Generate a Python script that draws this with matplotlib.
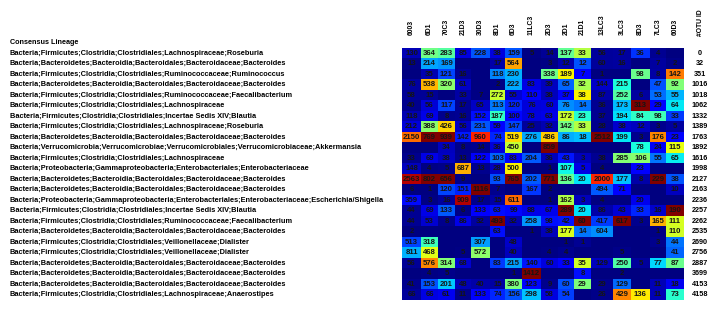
import numpy as np
import matplotlib.pyplot as plt
from matplotlib.transforms import blended_transform_factory

plt.rcParams['font.family'] = ['Liberation Sans', 'DejaVu Sans']

samples = ['6003', '6D1', '70C3', '21D3', '30D3', '8D1', '6D3', '11LC3',
           '2D3', '2D1', '21D1', '13LC3', '3LC3', '8D3', '7LC3', '60D3']

otu_ids = [0, 32, 351, 1016, 1018, 1062, 1332, 1389, 1763, 1892, 1616, 1998,
           2127, 2163, 2236, 2257, 2262, 2535, 2690, 2756, 2887, 3699, 4153, 4158]

lineages = [
    'Bacteria;Firmicutes;Clostridia;Clostridiales;Lachnospiraceae;Roseburia',
    'Bacteria;Bacteroidetes;Bacteroidia;Bacteroidales;Bacteroidaceae;Bacteroides',
    'Bacteria;Firmicutes;Clostridia;Clostridiales;Ruminococcaceae;Ruminococcus',
    'Bacteria;Bacteroidetes;Bacteroidia;Bacteroidales;Bacteroidaceae;Bacteroides',
    'Bacteria;Firmicutes;Clostridia;Clostridiales;Ruminococcaceae;Faecalibacterium',
    'Bacteria;Firmicutes;Clostridia;Clostridiales;Lachnospiraceae',
    'Bacteria;Firmicutes;Clostridia;Clostridiales;Incertae Sedis XIV;Blautia',
    'Bacteria;Firmicutes;Clostridia;Clostridiales;Lachnospiraceae;Roseburia',
    'Bacteria;Bacteroidetes;Bacteroidia;Bacteroidales;Bacteroidaceae;Bacteroides',
    'Bacteria;Verrucomicrobia;Verrucomicrobiae;Verrucomicrobiales;Verrucomicrobiaceae;Akkermansia',
    'Bacteria;Firmicutes;Clostridia;Clostridiales;Lachnospiraceae',
    'Bacteria;Proteobacteria;Gammaproteobacteria;Enterobacteriales;Enterobacteriaceae',
    'Bacteria;Bacteroidetes;Bacteroidia;Bacteroidales;Bacteroidaceae;Bacteroides',
    'Bacteria;Bacteroidetes;Bacteroidia;Bacteroidales;Bacteroidaceae;Bacteroides',
    'Bacteria;Proteobacteria;Gammaproteobacteria;Enterobacteriales;Enterobacteriaceae;Escherichia/Shigella',
    'Bacteria;Firmicutes;Clostridia;Clostridiales;Incertae Sedis XIV;Blautia',
    'Bacteria;Firmicutes;Clostridia;Clostridiales;Ruminococcaceae;Faecalibacterium',
    'Bacteria;Bacteroidetes;Bacteroidia;Bacteroidales;Bacteroidaceae;Bacteroides',
    'Bacteria;Firmicutes;Clostridia;Clostridiales;Veillonellaceae;Dialister',
    'Bacteria;Firmicutes;Clostridia;Clostridiales;Veillonellaceae;Dialister',
    'Bacteria;Bacteroidetes;Bacteroidia;Bacteroidales;Bacteroidaceae;Bacteroides',
    'Bacteria;Bacteroidetes;Bacteroidia;Bacteroidales;Bacteroidaceae;Bacteroides',
    'Bacteria;Bacteroidetes;Bacteroidia;Bacteroidales;Bacteroidaceae;Bacteroides',
    'Bacteria;Firmicutes;Clostridia;Clostridiales;Lachnospiraceae;Anaerostipes',
]

# counts per OTU (rows) and sample (columns), 0 = empty cell
counts = np.array([
    [130, 364, 283, 85, 228, 38, 159, 5, 14, 137, 33, 56, 17, 36, 4, 0],
    [13, 214, 169, 0, 0, 17, 564, 0, 3, 12, 12, 60, 16, 0, 7, 2],
    [0, 35, 121, 16, 0, 118, 230, 0, 338, 189, 7, 1, 0, 98, 8, 142],
    [76, 538, 320, 61, 0, 2, 222, 83, 39, 65, 32, 144, 215, 0, 47, 92],
    [58, 15, 0, 33, 7, 272, 55, 110, 38, 37, 38, 87, 252, 6, 53, 55],
    [40, 56, 117, 17, 65, 113, 120, 76, 60, 76, 14, 36, 173, 313, 29, 64],
    [118, 69, 8, 16, 152, 187, 100, 78, 63, 172, 23, 37, 194, 84, 98, 33],
    [212, 388, 426, 56, 231, 59, 147, 25, 32, 142, 33, 28, 38, 12, 3, 5],
    [2150, 769, 939, 142, 960, 74, 519, 276, 486, 86, 18, 2512, 199, 3, 176, 23],
    [0, 0, 34, 8, 14, 36, 450, 0, 859, 0, 0, 0, 0, 78, 24, 115],
    [33, 69, 38, 13, 122, 103, 83, 204, 36, 43, 3, 38, 285, 106, 55, 65],
    [148, 4, 5, 687, 13, 28, 500, 0, 1, 107, 5, 4, 0, 23, 0, 0],
    [2563, 802, 656, 9, 0, 93, 765, 202, 771, 136, 20, 2000, 177, 8, 229, 38],
    [6, 1, 120, 151, 1116, 7, 0, 167, 2, 0, 0, 494, 71, 0, 0, 10],
    [359, 3, 16, 909, 17, 15, 611, 0, 1, 162, 3, 4, 0, 20, 0, 0],
    [44, 69, 133, 6, 133, 63, 99, 88, 67, 289, 20, 86, 43, 33, 16, 190],
    [44, 53, 8, 86, 32, 493, 32, 258, 98, 42, 60, 417, 617, 3, 165, 111],
    [2, 0, 0, 0, 0, 63, 0, 1, 38, 177, 14, 604, 0, 0, 1, 110],
    [513, 318, 0, 0, 307, 0, 48, 0, 0, 1, 1, 0, 0, 0, 3, 44],
    [811, 468, 0, 5, 572, 0, 40, 0, 4, 4, 0, 0, 5, 0, 0, 41],
    [56, 576, 314, 68, 0, 83, 215, 140, 60, 33, 35, 129, 250, 5, 77, 87],
    [0, 4, 5, 0, 0, 0, 1, 1412, 0, 0, 8, 0, 2, 0, 0, 0],
    [41, 153, 201, 48, 40, 15, 380, 123, 9, 60, 29, 29, 129, 0, 11, 18],
    [66, 66, 61, 11, 133, 74, 156, 298, 58, 54, 0, 26, 429, 136, 11, 73],
])

# top of the colour scale of each sample column (larger counts saturate)
col_top = [2700, 750, 620, 950, 1100, 460, 765, 950, 700, 290, 58, 2300, 560, 205, 229, 182]

# column widths in pixels (the sheet has uneven columns)
col_w = [19, 17, 17, 16, 19, 15, 17, 19, 17, 16, 17, 22, 18, 19, 16, 18]

W, H = 715, 309
fig = plt.figure(figsize=(W / 100, H / 100), dpi=100)
ax = fig.add_axes([402 / W, 1 - 299.5 / H, 282 / W, 252 / H])

x_edges = np.concatenate([[0], np.cumsum(col_w)])
y_edges = np.arange(len(otu_ids) + 1)
scaled = np.clip(counts / np.array(col_top, dtype=float), 0, 1)
ax.pcolormesh(x_edges, y_edges, scaled, cmap='jet', vmin=0, vmax=1)
ax.set_xlim(0, x_edges[-1])
ax.set_ylim(len(otu_ids), 0)
ax.axis('off')

x_mid = (x_edges[:-1] + x_edges[1:]) / 2
for i in range(len(otu_ids)):
    for j in range(len(samples)):
        v = counts[i, j]
        if v > 0:
            ax.text(x_mid[j], i + 0.55, str(v), ha='center', va='center',
                    fontsize=5.6, fontweight='bold', color='#151515')

rows_tr = blended_transform_factory(fig.transFigure, ax.transData)
ax.text(10 / W, -0.45, 'Consensus Lineage', transform=rows_tr, ha='left',
        va='center', fontsize=5.2, fontweight='bold')
for i, lin in enumerate(lineages):
    ax.text(10 / W, i + 0.55, lin, transform=rows_tr, ha='left', va='center',
            fontsize=5.3, fontweight='bold')
    ax.text(700 / W, i + 0.55, str(otu_ids[i]), transform=rows_tr, ha='center',
            va='center', fontsize=5.2, fontweight='bold')

cols_tr = blended_transform_factory(ax.transData, fig.transFigure)
for j, s in enumerate(samples):
    ax.text(x_mid[j], 1 - 35 / H, s, transform=cols_tr, rotation=90,
            ha='center', va='bottom', fontsize=4.9, fontweight='bold')
fig.text(700 / W, 1 - 36 / H, '#OTU ID', rotation=90, ha='center', va='bottom',
         fontsize=4.9, fontweight='bold')

fig.savefig('out.png', dpi=100)
